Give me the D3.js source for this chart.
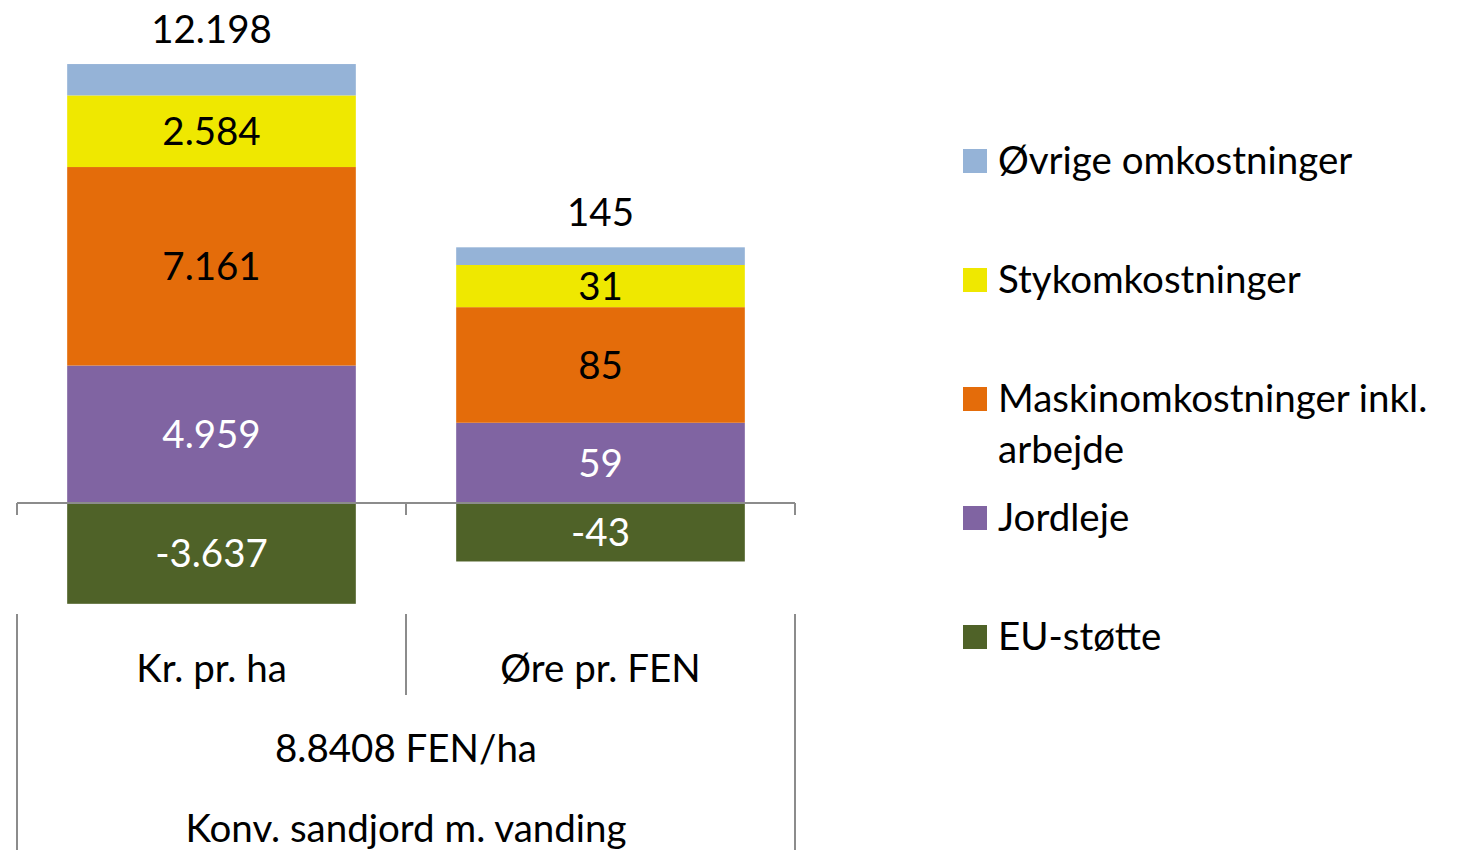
<!DOCTYPE html>
<html>
<head>
<meta charset="utf-8">
<script src="https://cdn.jsdelivr.net/npm/d3@7"></script>
<style>
  body { margin: 0; background: #fff; }
  text { font-family: Lato, "Noto Sans", sans-serif; }
</style>
</head>
<body>
<div id="wrapper"></div>
<script>
// data
const categories = ["Kr. pr. ha", "Øre pr. FEN"];
const groupLabels = ["8.8408 FEN/ha", "Konv. sandjord m. vanding"];
const seriesNames = ["Øvrige omkostninger", "Stykomkostninger", "Maskinomkostninger inkl. arbejde", "Jordleje", "EU-støtte"];
const ovrige = [1131, 13];
const stykomk = [2584, 31];
const maskinomk = [7161, 85];
const jordleje = [4959, 59];
const euStotte = [-3637, -43];
const totals = [12198, 145];

function buildPlot() {
    const dimension = { width: 1460, height: 850 };
    const baseY = 503;
    const fontSize = 38.5;

    const colors = {
        "Øvrige omkostninger": "#95b3d7",
        "Stykomkostninger": "#efe800",
        "Maskinomkostninger inkl. arbejde": "#e46c0a",
        "Jordleje": "#8064a2",
        "EU-støtte": "#4f6228"
    };
    const labelColor = {
        "Stykomkostninger": "#000",
        "Maskinomkostninger inkl. arbejde": "#000",
        "Jordleje": "#fff",
        "EU-støtte": "#fff"
    };

    const dk = d3.formatLocale({ decimal: ",", thousands: ".", grouping: [3], currency: ["", ""], minus: "-" });
    const fmt = dk.format(",d");

    // one row per category
    const rows = categories.map((c, i) => ({
        cat: c,
        "Øvrige omkostninger": ovrige[i],
        "Stykomkostninger": stykomk[i],
        "Maskinomkostninger inkl. arbejde": maskinomk[i],
        "Jordleje": jordleje[i],
        "EU-støtte": euStotte[i],
        total: totals[i]
    }));

    const stackKeys = ["Jordleje", "Maskinomkostninger inkl. arbejde", "Stykomkostninger", "Øvrige omkostninger", "EU-støtte"];
    const stacked = d3.stack().keys(stackKeys).offset(d3.stackOffsetDiverging)(rows);

    const svg = d3.select("#wrapper").append("svg")
        .attr("width", dimension.width)
        .attr("height", dimension.height);

    const xScaler = d3.scaleBand().domain(categories).range([17, 795]).padding(0);
    const barW = xScaler.bandwidth() * 0.742;

    // each category has its own value scale (kr vs øre)
    const kKr = 0.02772, kOre = 1.36;
    const yScalers = {
        "Kr. pr. ha": d3.scaleLinear().domain([-4000, 16000]).range([baseY + 4000 * kKr, baseY - 16000 * kKr]),
        "Øre pr. FEN": d3.scaleLinear().domain([-50, 200]).range([baseY + 50 * kOre, baseY - 200 * kOre])
    };

    const layers = svg.append("g").selectAll("g")
        .data(stacked)
        .join("g")
        .attr("fill", d => colors[d.key]);

    layers.selectAll("rect")
        .data(d => d.map(p => ({ key: d.key, p })))
        .join("rect")
        .attr("x", d => xScaler(d.p.data.cat) + (xScaler.bandwidth() - barW) / 2)
        .attr("width", barW)
        .attr("y", d => yScalers[d.p.data.cat](Math.max(d.p[0], d.p[1])))
        .attr("height", d => Math.abs(yScalers[d.p.data.cat](d.p[0]) - yScalers[d.p.data.cat](d.p[1])));

    // segment labels (not on Øvrige)
    stacked.filter(s => s.key !== "Øvrige omkostninger").forEach(s => {
        svg.append("g").selectAll("text")
            .data(s)
            .join("text")
            .attr("x", p => xScaler(p.data.cat) + xScaler.bandwidth() / 2)
            .attr("y", p => yScalers[p.data.cat]((p[0] + p[1]) / 2))
            .attr("dy", "0.36em")
            .attr("text-anchor", "middle")
            .attr("font-size", fontSize)
            .attr("fill", labelColor[s.key])
            .text(p => fmt(p.data[s.key]));
    });

    // totals above bars
    const topLayer = stacked.find(s => s.key === "Øvrige omkostninger");
    svg.append("g").selectAll("text")
        .data(topLayer)
        .join("text")
        .attr("x", p => xScaler(p.data.cat) + xScaler.bandwidth() / 2)
        .attr("y", p => yScalers[p.data.cat](p[1]) - 21)
        .attr("text-anchor", "middle")
        .attr("font-size", fontSize)
        .attr("fill", "#000")
        .text(p => fmt(p.data.total));

    // category axis (multi level)
    const axisColor = "#8c8c8c";
    const [x0, x1] = xScaler.range();
    const bounds = categories.map(c => xScaler(c)).concat([x1]);
    const axis = svg.append("g").attr("stroke", axisColor).attr("stroke-width", 2);
    axis.append("line").attr("x1", x0).attr("x2", x1).attr("y1", baseY).attr("y2", baseY);
    axis.selectAll(".tick").data(bounds).join("line")
        .attr("x1", d => d).attr("x2", d => d)
        .attr("y1", baseY).attr("y2", baseY + 12);
    axis.selectAll(".sep").data(bounds).join("line")
        .attr("x1", d => d).attr("x2", d => d)
        .attr("y1", 614)
        .attr("y2", (d, i) => (i === 0 || i === bounds.length - 1) ? dimension.height : 695);

    svg.append("g").selectAll("text")
        .data(categories)
        .join("text")
        .attr("x", c => xScaler(c) + xScaler.bandwidth() / 2)
        .attr("y", 682)
        .attr("text-anchor", "middle")
        .attr("font-size", fontSize)
        .text(c => c);

    svg.append("g").selectAll("text")
        .data(groupLabels)
        .join("text")
        .attr("x", (x0 + x1) / 2)
        .attr("y", (d, i) => 762 + i * 80)
        .attr("text-anchor", "middle")
        .attr("font-size", fontSize)
        .text(d => d);

    // legend
    const legend = svg.append("g").attr("transform", "translate(963,161)");
    const item = legend.selectAll("g")
        .data(seriesNames)
        .join("g")
        .attr("transform", (d, i) => `translate(0,${i * 119})`);
    item.append("rect")
        .attr("x", 0).attr("y", -12).attr("width", 24).attr("height", 24)
        .attr("fill", d => colors[d]);
    const lt = item.append("text")
        .attr("x", 35)
        .attr("y", 0)
        .attr("font-size", fontSize)
        .attr("fill", "#000");
    lt.each(function (d) {
        const lines = d === "Maskinomkostninger inkl. arbejde" ? ["Maskinomkostninger inkl.", "arbejde"] : [d];
        d3.select(this).selectAll("tspan")
            .data(lines)
            .join("tspan")
            .attr("x", 35)
            .attr("dy", (l, i) => i === 0 ? "0.34em" : "51px")
            .text(l => l);
    });
}

buildPlot();
</script>
</body>
</html>
